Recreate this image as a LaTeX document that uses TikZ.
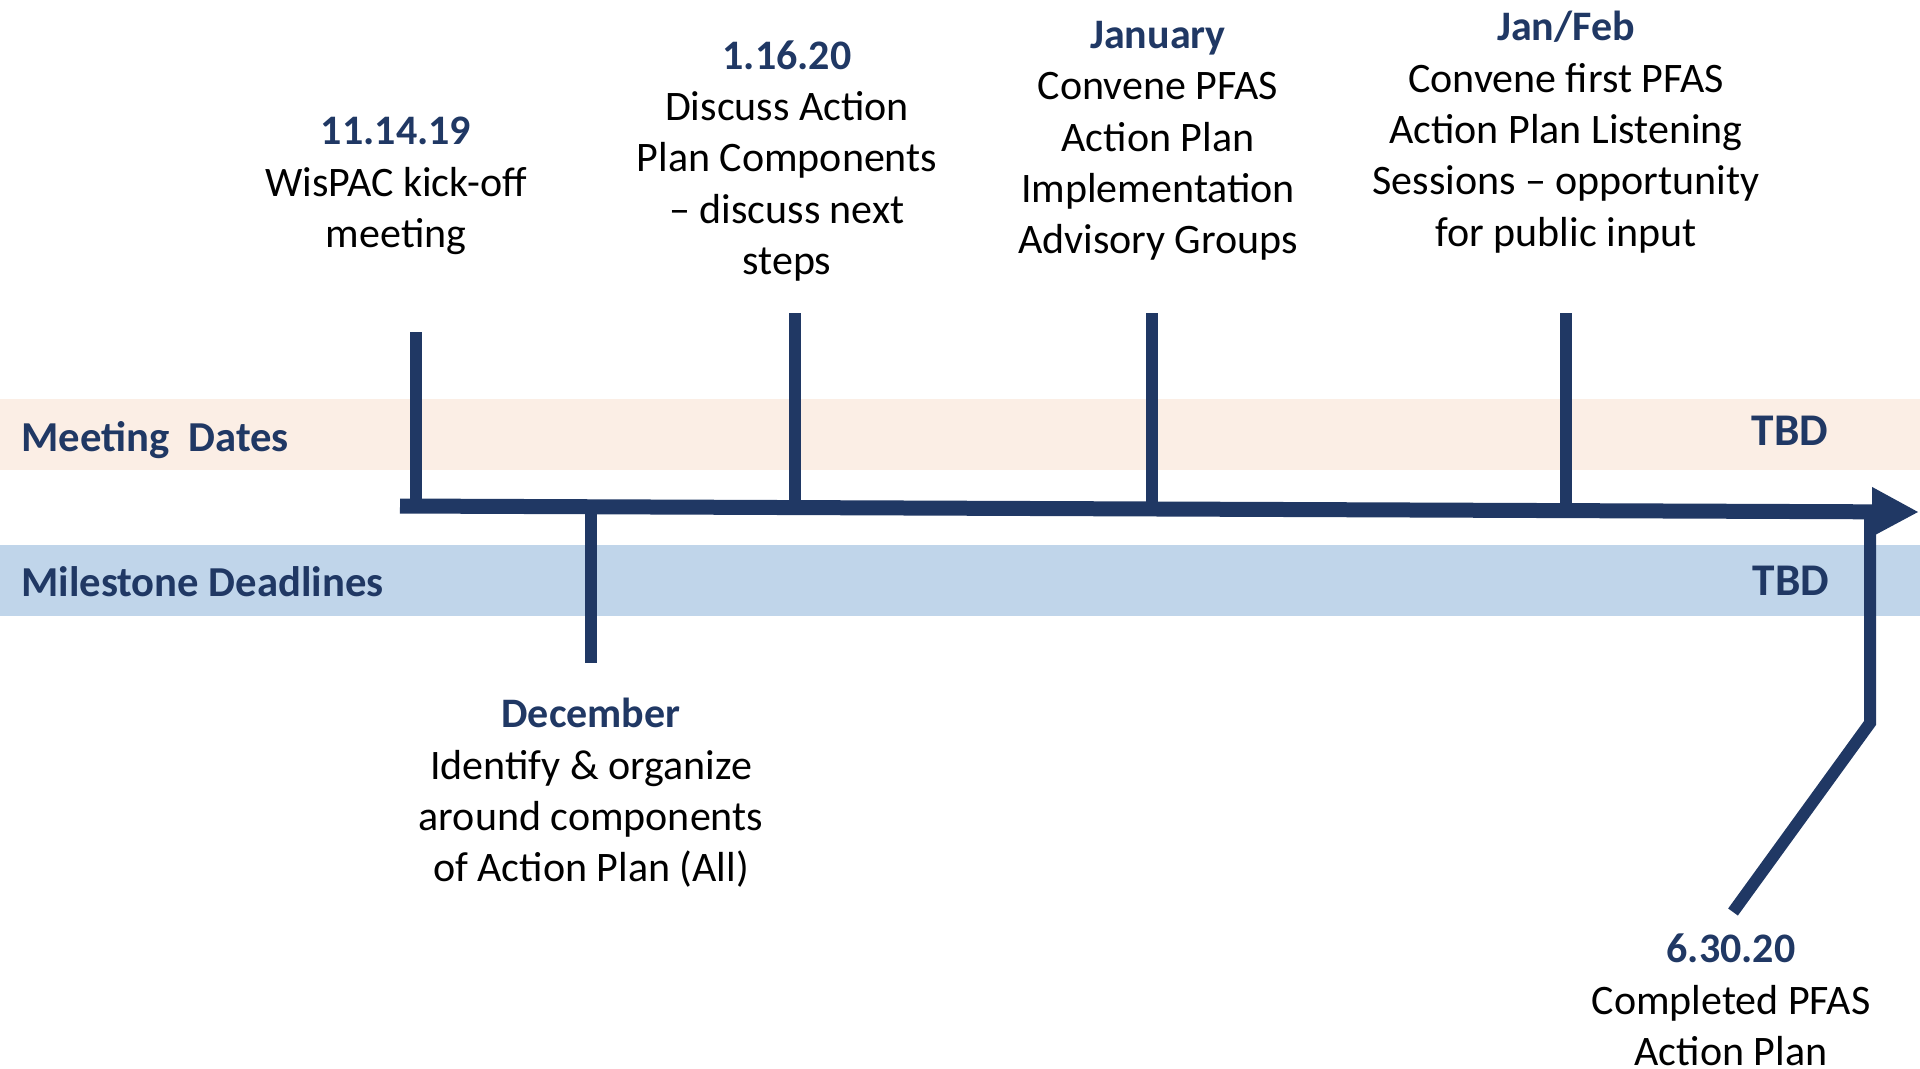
\documentclass[tikz,border=0pt]{standalone}
\usepackage{fontspec}
\setmainfont{Carlito}
\usetikzlibrary{arrows.meta}
\definecolor{navy}{RGB}{32,56,100}
\definecolor{peachband}{RGB}{251,238,229}
\definecolor{blueband}{RGB}{192,213,234}
\newcommand{\evdate}[1]{\textbf{\color{navy}#1}}

\begin{document}
\begin{tikzpicture}[x=0.75pt,y=0.75pt,yscale=-1,xscale=1,
  stem/.style={draw=navy,line width=9pt},
  axisline/.style={draw=navy,line width=11.25pt,-{Triangle[length=35.25pt,width=34.5pt]}},
  event/.style={align=center,inner sep=0pt,font=\fontsize{31.5}{38.5}\selectfont},
  rowlabel/.style={anchor=west,inner sep=0pt,text=navy,font=\fontsize{32}{38}\selectfont\bfseries},
  tbd/.style={inner sep=0pt,text=navy,font=\fontsize{34}{40}\selectfont\bfseries}]
\useasboundingbox (0,0) rectangle (1920,1068);

%Shape: Rectangle [meeting row]
\fill [peachband] (0,399) rectangle (1920,470);
%Shape: Rectangle [milestone row]
\fill [blueband] (0,545) rectangle (1920,616);

% points on the time line
\coordinate (start) at (400,506);
\coordinate (tip) at (1919,512);
\coordinate (kickbase) at (416,506.1);
\coordinate (decbase) at (591,506.8);
\coordinate (jan16base) at (795,507.6);
\coordinate (janbase) at (1152,509);
\coordinate (febbase) at (1566,510.6);
\coordinate (endbase) at (1870,511.8);
% free ends of the stems
\coordinate (kicktop) at (416,332);
\coordinate (jan16top) at (795,313);
\coordinate (jantop) at (1152,313);
\coordinate (febtop) at (1566,313);
\coordinate (decbottom) at (591,663);
\coordinate (endbend) at (1870,723);
\coordinate (endfoot) at (1733,912);

%Straight Lines [stems]
\draw [stem] (kickbase) -- (kicktop);
\draw [stem] (jan16base) -- (jan16top);
\draw [stem] (janbase) -- (jantop);
\draw [stem] (febbase) -- (febtop);
\draw [stem] (decbase) -- (decbottom);
\draw [stem] (endbase) -- (endbend) -- (endfoot);
%Straight Lines [time line]
\draw [axisline] (start) -- (tip);

% Text Node
\node [rowlabel] (meetlbl) at (21,440) {Meeting\ \ Dates};
% Text Node
\node [rowlabel] (milelbl) at (21,582) {Milestone Deadlines};
% Text Node
\node [tbd] (meettbd) at (1790,431) {TBD};
% Text Node
\node [tbd] (miletbd) at (1791,581) {TBD};

% Text Node
\node [event] (kickoff) at (396,186) {\evdate{11.14.19}\\WisPAC kick-off\\meeting};
% Text Node
\node [event] (jan16) at (787,161) {\evdate{1.16.20}\\Discuss Action\\Plan Components\\– discuss next\\steps};
% Text Node
\node [event] (january) at (1158,141) {\evdate{January}\\Convene PFAS\\Action Plan\\Implementation\\Advisory Groups};
% Text Node
\node [event] (janfeb) at (1566,132) {\evdate{Jan/Feb}\\Convene first PFAS\\Action Plan Listening\\Sessions – opportunity\\for public input};
% Text Node
\node [event] (december) at (591,793) {\evdate{December}\\Identify \& organize\\around components\\of Action Plan (All)};
% Text Node
\node [event] (final) at (1731,1000) {\evdate{6.30.20}\\Completed PFAS\\Action Plan};

\end{tikzpicture}
\end{document}
